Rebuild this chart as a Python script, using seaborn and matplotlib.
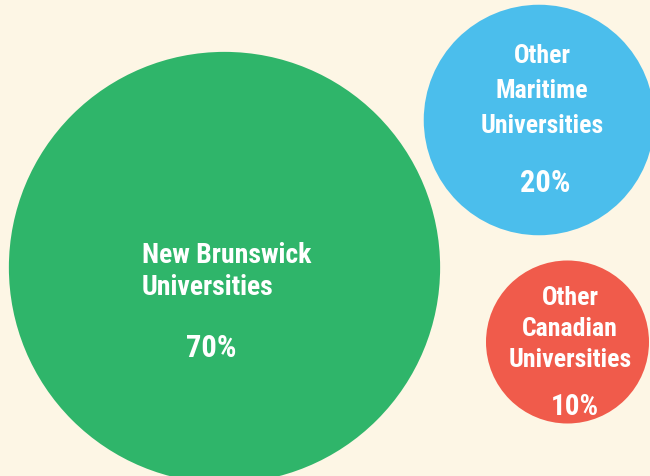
import matplotlib
matplotlib.use("Agg")
import matplotlib.pyplot as plt
import seaborn as sns
import pandas as pd

# data
groups = ["New Brunswick Universities", "Other Maritime Universities", "Other Canadian Universities"]
shares = [70, 20, 10]
label_lines = [["New Brunswick", "Universities"],
               ["Other", "Maritime", "Universities"],
               ["Other", "Canadian", "Universities"]]
colors = ["#2FB56A", "#4BBEEC", "#F05B4B"]

# layout (pixels, origin top-left)
cx = [224.5, 539, 567.5]
cy = [268.5, 121, 343]
bg = "#FDF6E5"

sns.set_theme(style="white")
plt.rcParams["font.family"] = ["Liberation Sans Narrow", "Roboto Condensed", "DejaVu Sans"]

df = pd.DataFrame({"group": groups, "share": shares, "x": cx, "y": cy})

fig = plt.figure(figsize=(6.5, 4.77), dpi=100, facecolor=bg)
ax = fig.add_axes([0, 0, 1, 1])
ax.set_facecolor(bg)

# marker area in pt^2, proportional to share (r = 81.5 px for 10%)
unit = (2 * 81.5 * 0.72) ** 2 / 10
sns.scatterplot(data=df, x="x", y="y", hue="group", palette=colors, size="share",
                sizes=(unit * min(shares), unit * max(shares)), size_norm=(min(shares), max(shares)),
                linewidth=0, alpha=1, legend=False, ax=ax)

ax.set_xlim(0, 650)
ax.set_ylim(477, 0)
ax.axis("off")

tc = "white"
# green: left aligned
for i, line in enumerate(label_lines[0]):
    ax.text(142, 263 + 32 * i, line, ha="left", va="baseline", color=tc,
            fontsize=20, fontweight="bold")
ax.text(211, 357, "70%", ha="center", va="baseline", color=tc, fontsize=22, fontweight="bold")

# blue
for i, line in enumerate(label_lines[1]):
    ax.text(542, 63 + 35 * i, line, ha="center", va="baseline", color=tc,
            fontsize=18.5, fontweight="bold")
ax.text(545, 192, "20%", ha="center", va="baseline", color=tc, fontsize=22, fontweight="bold")

# red
for i, line in enumerate(label_lines[2]):
    ax.text(570, 305 + 31 * i, line, ha="center", va="baseline", color=tc,
            fontsize=18.5, fontweight="bold")
ax.text(575, 415, "10%", ha="center", va="baseline", color=tc, fontsize=21, fontweight="bold")

fig.savefig("out.png", dpi=100, facecolor=bg)
